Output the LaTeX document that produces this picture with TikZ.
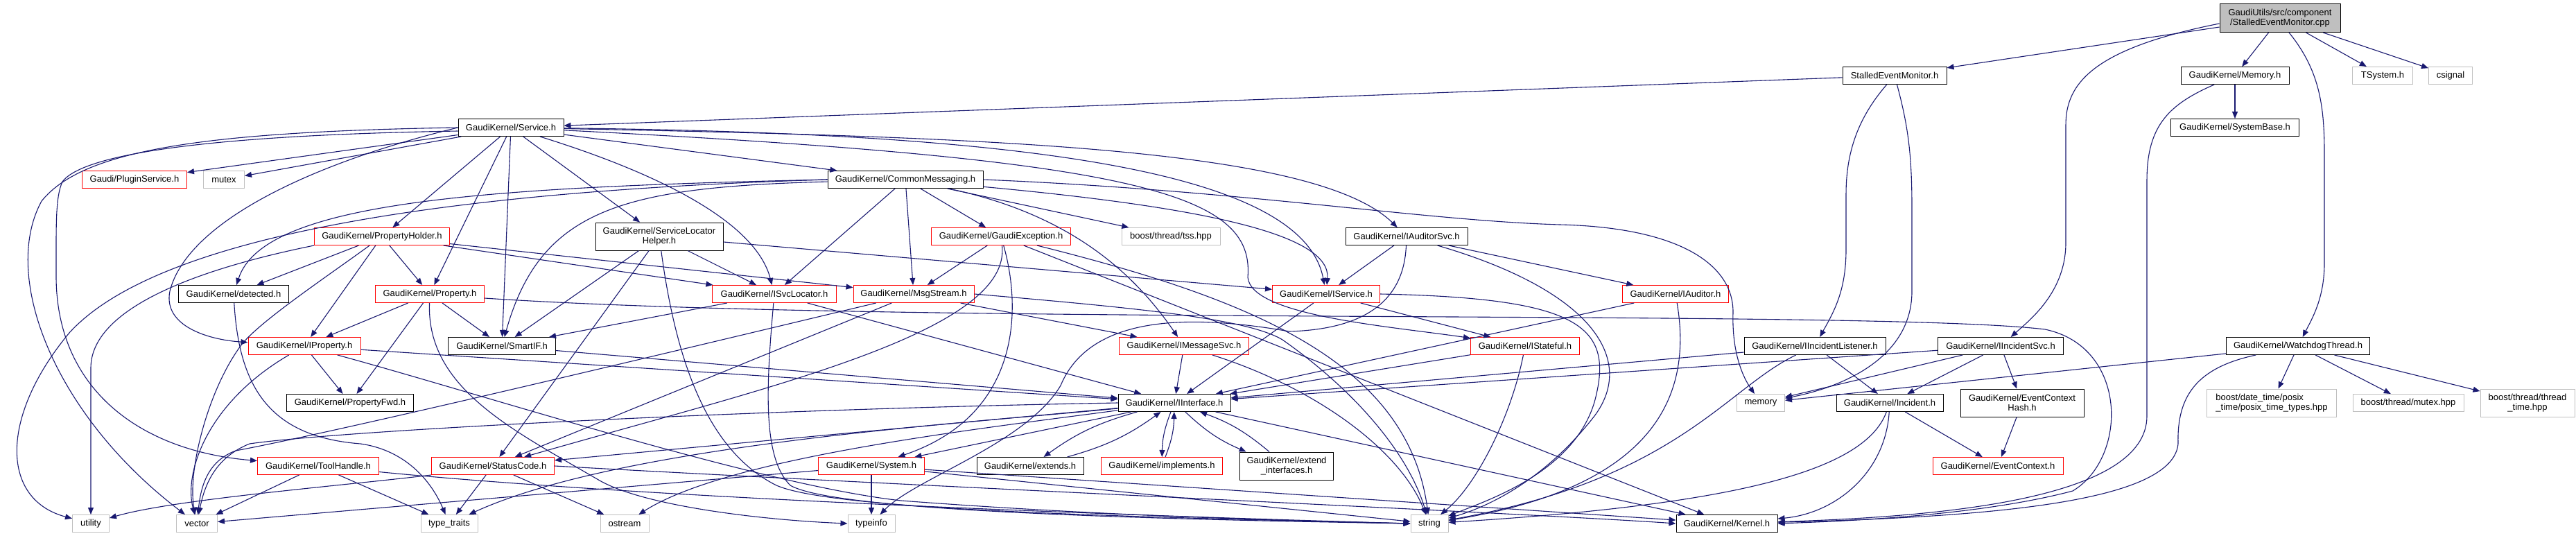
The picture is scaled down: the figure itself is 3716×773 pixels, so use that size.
\documentclass[tikz,border=0pt]{standalone}
\usepackage{fontspec}
\setmainfont{Liberation Sans}
\usepackage{xcolor}
\usepackage{tikz}
\usetikzlibrary{arrows.meta}
\definecolor{edgeblue}{HTML}{191970}
\definecolor{greyline}{HTML}{BFBFBF}
\tikzset{
	hdr/.style={draw=black,fill=white,line width=1pt,minimum height=25,inner sep=2pt,font=\fontsize{13}{14}\selectfont},
	hdrred/.style={hdr,draw=red},
	extfile/.style={hdr,draw=greyline},
	srcfile/.style={hdr,fill=greyline,align=center,minimum height=41},
	dep/.style={draw=edgeblue,line width=1.1pt,-{Triangle[length=10pt,width=8pt]}},
}

\begin{document}
\begin{tikzpicture}[x=1pt,y=-1pt]
	\useasboundingbox (0,0) rectangle (3716,773);
	% files
	\node (root) at(3289,26)[srcfile,minimum width=174]{GaudiUtils/src/component\\/StalledEventMonitor.cpp};
	\node (semh) at(2733,109)[hdr,minimum width=150]{StalledEventMonitor.h};
	\node (memoryh) at(3224,109)[hdr,minimum width=156]{GaudiKernel/Memory.h};
	\node (tsystem) at(3437,109)[extfile,minimum width=87]{TSystem.h};
	\node (csignal) at(3535,109)[extfile,minimum width=63]{csignal};
	\node (sysbase) at(3224,184)[hdr,minimum width=185]{GaudiKernel/SystemBase.h};
	\node (svc) at(737,184)[hdr,minimum width=152]{GaudiKernel/Service.h};
	\node (plugin) at(194,259)[hdrred,minimum width=151]{Gaudi/PluginService.h};
	\node (mutex) at(323,259)[extfile,minimum width=59]{mutex};
	\node (commsg) at(1306,259)[hdr,minimum width=224]{GaudiKernel/CommonMessaging.h};
	\node (propholder) at(551,341)[hdrred,minimum width=195]{GaudiKernel/PropertyHolder.h};
	\node (slh) at(951,341)[hdr,align=center,minimum width=184,minimum height=40]{GaudiKernel/ServiceLocator\\Helper.h};
	\node (gexc) at(1444,341)[hdrred,minimum width=201]{GaudiKernel/GaudiException.h};
	\node (tss) at(1689,341)[extfile,minimum width=142]{boost/thread/tss.hpp};
	\node (iauditorsvc) at(2029,341)[hdr,minimum width=176]{GaudiKernel/IAuditorSvc.h};
	\node (detected) at(337,424)[hdr,minimum width=159]{GaudiKernel/detected.h};
	\node (prop) at(620,424)[hdrred,minimum width=157]{GaudiKernel/Property.h};
	\node (isvcloc) at(1117,424)[hdrred,minimum width=179]{GaudiKernel/ISvcLocator.h};
	\node (msgstream) at(1318,424)[hdrred,minimum width=174]{GaudiKernel/MsgStream.h};
	\node (iservice) at(1913,424)[hdrred,minimum width=155]{GaudiKernel/IService.h};
	\node (iauditor) at(2417,424)[hdrred,minimum width=153]{GaudiKernel/IAuditor.h};
	\node (iprop) at(439,499)[hdrred,minimum width=162]{GaudiKernel/IProperty.h};
	\node (smartif) at(724,499)[hdr,minimum width=155]{GaudiKernel/SmartIF.h};
	\node (imsgsvc) at(1708,499)[hdrred,minimum width=187]{GaudiKernel/IMessageSvc.h};
	\node (istateful) at(2200,499)[hdrred,minimum width=157]{GaudiKernel/IStateful.h};
	\node (iinclist) at(2618,499)[hdr,minimum width=204]{GaudiKernel/IIncidentListener.h};
	\node (iincsvc) at(2886,499)[hdr,minimum width=181]{GaudiKernel/IIncidentSvc.h};
	\node (watchdog) at(3315,499)[hdr,minimum width=207]{GaudiKernel/WatchdogThread.h};
	\node (propfwd) at(505,581)[hdr,minimum width=183]{GaudiKernel/PropertyFwd.h};
	\node (iinterface) at(1694,581)[hdr,minimum width=162]{GaudiKernel/IInterface.h};
	\node (memory) at(2540,581)[extfile,minimum width=69]{memory};
	\node (incident) at(2726,581)[hdr,minimum width=154]{GaudiKernel/Incident.h};
	\node (ectxhash) at(2917,581)[hdr,align=center,minimum width=178,minimum height=40]{GaudiKernel/EventContext\\Hash.h};
	\node (posix) at(3277,581)[extfile,align=left,minimum width=187,minimum height=40]{boost/date\_time/posix\\\_time/posix\_time\_types.hpp};
	\node (bmutex) at(3474,581)[extfile,minimum width=160]{boost/thread/mutex.hpp};
	\node (ttime) at(3646,581)[extfile,align=center,minimum width=136,minimum height=40]{boost/thread/thread\\\_time.hpp};
	\node (toolh) at(459,672)[hdrred,minimum width=175]{GaudiKernel/ToolHandle.h};
	\node (statuscode) at(711,672)[hdrred,minimum width=177]{GaudiKernel/StatusCode.h};
	\node (system) at(1257,672)[hdrred,minimum width=153]{GaudiKernel/System.h};
	\node (extends) at(1486,672)[hdr,minimum width=154]{GaudiKernel/extends.h};
	\node (implements) at(1676,672)[hdrred,minimum width=175]{GaudiKernel/implements.h};
	\node (extif) at(1856,672)[hdr,align=center,minimum width=135,minimum height=40]{GaudiKernel/extend\\\_interfaces.h};
	\node (ectx) at(2882,672)[hdrred,minimum width=188]{GaudiKernel/EventContext.h};
	\node (utility) at(131,755)[extfile,minimum width=53]{utility};
	\node (vector) at(284,755)[extfile,minimum width=59]{vector};
	\node (typetraits) at(648,755)[extfile,minimum width=82]{type\_traits};
	\node (ostream) at(901,755)[extfile,minimum width=70]{ostream};
	\node (typeinfo) at(1257,755)[extfile,minimum width=68]{typeinfo};
	\node (string) at(2062,755)[extfile,minimum width=54]{string};
	\node (kernel) at(2491,755)[hdr,minimum width=146]{GaudiKernel/Kernel.h};

	% includes of the source file
	\draw[dep] (root) -- (semh);
	\draw[dep] (root) -- (memoryh);
	\draw[dep] (root) -- (tsystem);
	\draw[dep] (root) -- (csignal);
	\draw[dep] ([yshift=-8pt]root.west) .. controls (3020,70) and (2980,120) .. (2980,180) -- (2980,350) .. controls (2980,420) and (2930,460) .. (iincsvc);
	\draw[dep] ([xshift=13pt]root.south) .. controls (3345,100) and (3353,150) .. (3353,220) -- (3353,380) .. controls (3353,430) and (3335,460) .. (watchdog);

	\draw[dep] (semh) -- (svc);
	\draw[dep] (semh) .. controls (2680,170) and (2663,220) .. (2663,280) -- (2663,360) .. controls (2663,420) and (2645,450) .. (iinclist);
	\draw[dep] (semh) .. controls (2752,180) and (2758,220) .. (2758,300) -- (2758,420) .. controls (2758,520) and (2650,560) .. (memory);

	\draw[dep] (memoryh) -- (sysbase);
	\draw[dep] (memoryh) .. controls (3130,150) and (3097,180) .. (3097,260) -- (3097,600) .. controls (3097,720) and (2800,745) .. (kernel);

	\draw[dep] (watchdog) -- (posix);
	\draw[dep] (watchdog) -- (bmutex);
	\draw[dep] (watchdog) -- (ttime);
	\draw[dep] (watchdog) -- (memory);
	\draw[dep] (watchdog) .. controls (3170,530) and (3140,570) .. (3142,640) .. controls (3135,720) and (2900,745) .. (kernel);

	\draw[dep] (iincsvc) -- (iinterface);
	\draw[dep] (iincsvc) -- (memory);
	\draw[dep] (iincsvc) -- (incident);
	\draw[dep] (iincsvc) -- (ectxhash);

	\draw[dep] (iinclist) -- (iinterface);
	\draw[dep] (iinclist) -- (incident);
	\draw[dep] (iinclist) .. controls (2490,560) and (2420,690) .. (string);

	\draw[dep] (incident) -- (ectx);
	\draw[dep] (incident) .. controls (2720,680) and (2650,740) .. (kernel);
	\draw[dep] (incident) .. controls (2690,680) and (2500,728) .. (string);
	\draw[dep] (ectxhash) -- (ectx);

	% Service.h
	\draw[dep] (svc) -- (plugin);
	\draw[dep] (svc) -- (mutex);
	\draw[dep] (svc.west) .. controls (300,190) and (120,215) .. (60,290) .. controls (0,400) and (80,600) .. (vector);
	\draw[dep] ([yshift=-5pt]svc.west) .. controls (300,195) and (120,222) .. (90,262) .. controls (80,285) and (81,320) .. (81,400) .. controls (82,560) and (200,650) .. (toolh);
	\draw[dep] (svc.west) .. controls (450,235) and (270,320) .. (245,420) .. controls (235,470) and (300,490) .. (iprop);
	\draw[dep] (svc) -- (prop);
	\draw[dep] (svc) -- (smartif);
	\draw[dep] (svc) -- (propholder);
	\draw[dep] (svc) -- (slh);
	\draw[dep] (svc) .. controls (950,250) and (1090,320) .. (isvcloc);
	\draw[dep] (svc) -- (commsg);
	\draw[dep] (svc) .. controls (1500,192) and (1880,250) .. (iservice);
	\draw[dep] (svc) .. controls (1450,198) and (1900,215) .. (iauditorsvc);
	\draw[dep] (svc) .. controls (1650,230) and (1810,280) .. (1800,400) .. controls (1805,455) and (2000,470) .. (istateful);

	% CommonMessaging.h
	\draw[dep] (commsg.west) .. controls (500,280) and (200,370) .. (100,480) .. controls (0,600) and (0,720) .. (utility);
	\draw[dep] (commsg.west) .. controls (700,270) and (380,290) .. (detected);
	\draw[dep] (commsg) .. controls (900,270) and (780,300) .. (smartif);
	\draw[dep] (commsg) -- (isvcloc);
	\draw[dep] (commsg) -- (msgstream);
	\draw[dep] (commsg) -- (gexc);
	\draw[dep] (commsg) -- (tss);
	\draw[dep] (commsg) .. controls (1550,310) and (1640,400) .. (imsgsvc);
	\draw[dep] (commsg) .. controls (1750,300) and (1920,340) .. (iservice);
	\draw[dep] (commsg.east) .. controls (1800,275) and (2050,318) .. (2250,324) .. controls (2420,328) and (2500,380) .. (2500,450) .. controls (2498,510) and (2515,545) .. (memory);

	% PropertyHolder.h
	\draw[dep] (propholder.south west) .. controls (300,385) and (132,440) .. (131,530) -- (utility);
	\draw[dep] (propholder) -- (detected);
	\draw[dep] (propholder) .. controls (470,400) and (380,460) .. (350,495) .. controls (300,560) and (270,680) .. (vector);
	\draw[dep] (propholder) -- (iprop);
	\draw[dep] (propholder) -- (prop);
	\draw[dep] (propholder) -- (isvcloc);
	\draw[dep] (propholder) -- (msgstream);

	% ServiceLocatorHelper.h
	\draw[dep] (slh) -- (smartif);
	\draw[dep] (slh) -- (statuscode);
	\draw[dep] (slh) -- (isvcloc);
	\draw[dep] (slh) -- (iservice);
	\draw[dep] (slh) .. controls (975,520) and (1020,650) .. (1120,700) .. controls (1200,735) and (1600,745) .. (string.west);

	% GaudiException.h
	\draw[dep] (gexc) -- (msgstream);
	\draw[dep] (gexc) .. controls (1475,450) and (1470,600) .. (system);
	\draw[dep] (gexc) .. controls (1460,480) and (1100,560) .. (statuscode);
	\draw[dep] (gexc) .. controls (1800,430) and (2030,520) .. (string);
	\draw[dep] (gexc) -- (kernel);

	% auditors, services
	\draw[dep] (iauditorsvc) -- (iservice);
	\draw[dep] (iauditorsvc) -- (iauditor);
	\draw[dep] (iauditorsvc) .. controls (2300,420) and (2360,520) .. (2300,600) .. controls (2230,690) and (2150,730) .. (string);
	\draw[dep] (iauditorsvc) .. controls (2025,440) and (1960,475) .. (1860,478) .. controls (1700,450) and (1570,460) .. (1530,556) .. controls (1480,640) and (1320,690) .. (typeinfo);
	\draw[dep] (iservice) -- (istateful);
	\draw[dep] (iservice) -- (iinterface);
	\draw[dep] (iservice.east) .. controls (2280,430) and (2330,470) .. (2300,580) .. controls (2270,680) and (2150,720) .. (string);
	\draw[dep] (istateful) -- (iinterface);
	\draw[dep] (istateful) .. controls (2180,600) and (2130,700) .. (string);
	\draw[dep] (iauditor) -- (iinterface);
	\draw[dep] (iauditor) .. controls (2440,560) and (2400,700) .. (string);
	\draw[dep] (imsgsvc) -- (iinterface);
	\draw[dep] (imsgsvc) .. controls (1900,560) and (2020,650) .. (string);

	\draw[dep] (isvcloc) -- (smartif);
	\draw[dep] (isvcloc) -- (iinterface);
	\draw[dep] (isvcloc) .. controls (1105,560) and (1100,660) .. (1140,700) .. controls (1200,735) and (1600,748) .. (string.west);

	\draw[dep] (msgstream) -- (imsgsvc);
	\draw[dep] (msgstream) -- (statuscode);
	\draw[dep] (msgstream.east) .. controls (1650,445) and (1800,460) .. (1850,490) .. controls (1950,560) and (2030,650) .. (string);
	\draw[dep] (msgstream) .. controls (1000,500) and (500,620) .. (340,650) .. controls (300,665) and (290,700) .. (vector);

	% properties
	\draw[dep] (iprop) -- (iinterface);
	\draw[dep] (iprop) -- (propfwd);
	\draw[dep] (iprop) .. controls (300,580) and (265,680) .. (vector);
	\draw[dep] (iprop) .. controls (700,570) and (1100,700) .. (1300,722) .. controls (1600,745) and (1900,752) .. (string.west);
	\draw[dep] (prop) -- (smartif);
	\draw[dep] (prop) -- (iprop);
	\draw[dep] (prop) -- (propfwd);
	\draw[dep] (prop) .. controls (615,560) and (740,620) .. (865,693) .. controls (930,730) and (1100,750) .. (typeinfo.west);
	\draw[dep] ([yshift=-6pt]prop.east) .. controls (1300,470) and (2700,445) .. (2950,475) .. controls (3070,500) and (3070,660) .. (2990,708) .. controls (2850,745) and (2650,752) .. (kernel.east);
	\draw[dep] (detected) .. controls (345,560) and (390,630) .. (520,640) .. controls (590,650) and (625,700) .. (typetraits);
	\draw[dep] (smartif) -- (iinterface);

	% lower row
	\draw[dep] (toolh) -- (vector);
	\draw[dep] (toolh) -- (typetraits);
	\draw[dep] (toolh) .. controls (900,715) and (1500,740) .. (string.west);
	\draw[dep] (statuscode.south west) .. controls (500,700) and (250,720) .. (utility);
	\draw[dep] (statuscode) -- (typetraits);
	\draw[dep] (statuscode) -- (ostream);
	\draw[dep] (statuscode.east) .. controls (1300,700) and (2200,740) .. (kernel.west);
	\draw[dep] (system) -- (typeinfo);
	\draw[dep] (system) -- (vector);
	\draw[dep] (system) -- (string);
	\draw[dep] (system) -- (kernel);

	% IInterface.h
	\draw[dep] (iinterface) -- (system);
	\draw[dep] (iinterface) -- (statuscode);
	\draw[dep] (iinterface) .. controls (1400,610) and (900,640) .. (typetraits);
	\draw[dep] (iinterface) .. controls (1400,620) and (1050,660) .. (ostream);
	\draw[dep] (iinterface.west) .. controls (1100,590) and (500,620) .. (360,640) .. controls (310,660) and (295,700) .. (vector);
	\draw[dep] (iinterface) -- (kernel);
	\draw[dep] (iinterface) to[bend right=10] (extends);
	\draw[dep] (extends) to[bend right=10] (iinterface);
	\draw[dep] (iinterface) to[bend right=10] (implements);
	\draw[dep] (implements) to[bend right=10] (iinterface);
	\draw[dep] (iinterface) to[bend right=10] (extif);
	\draw[dep] (extif) to[bend right=10] (iinterface);
\end{tikzpicture}
\end{document}
